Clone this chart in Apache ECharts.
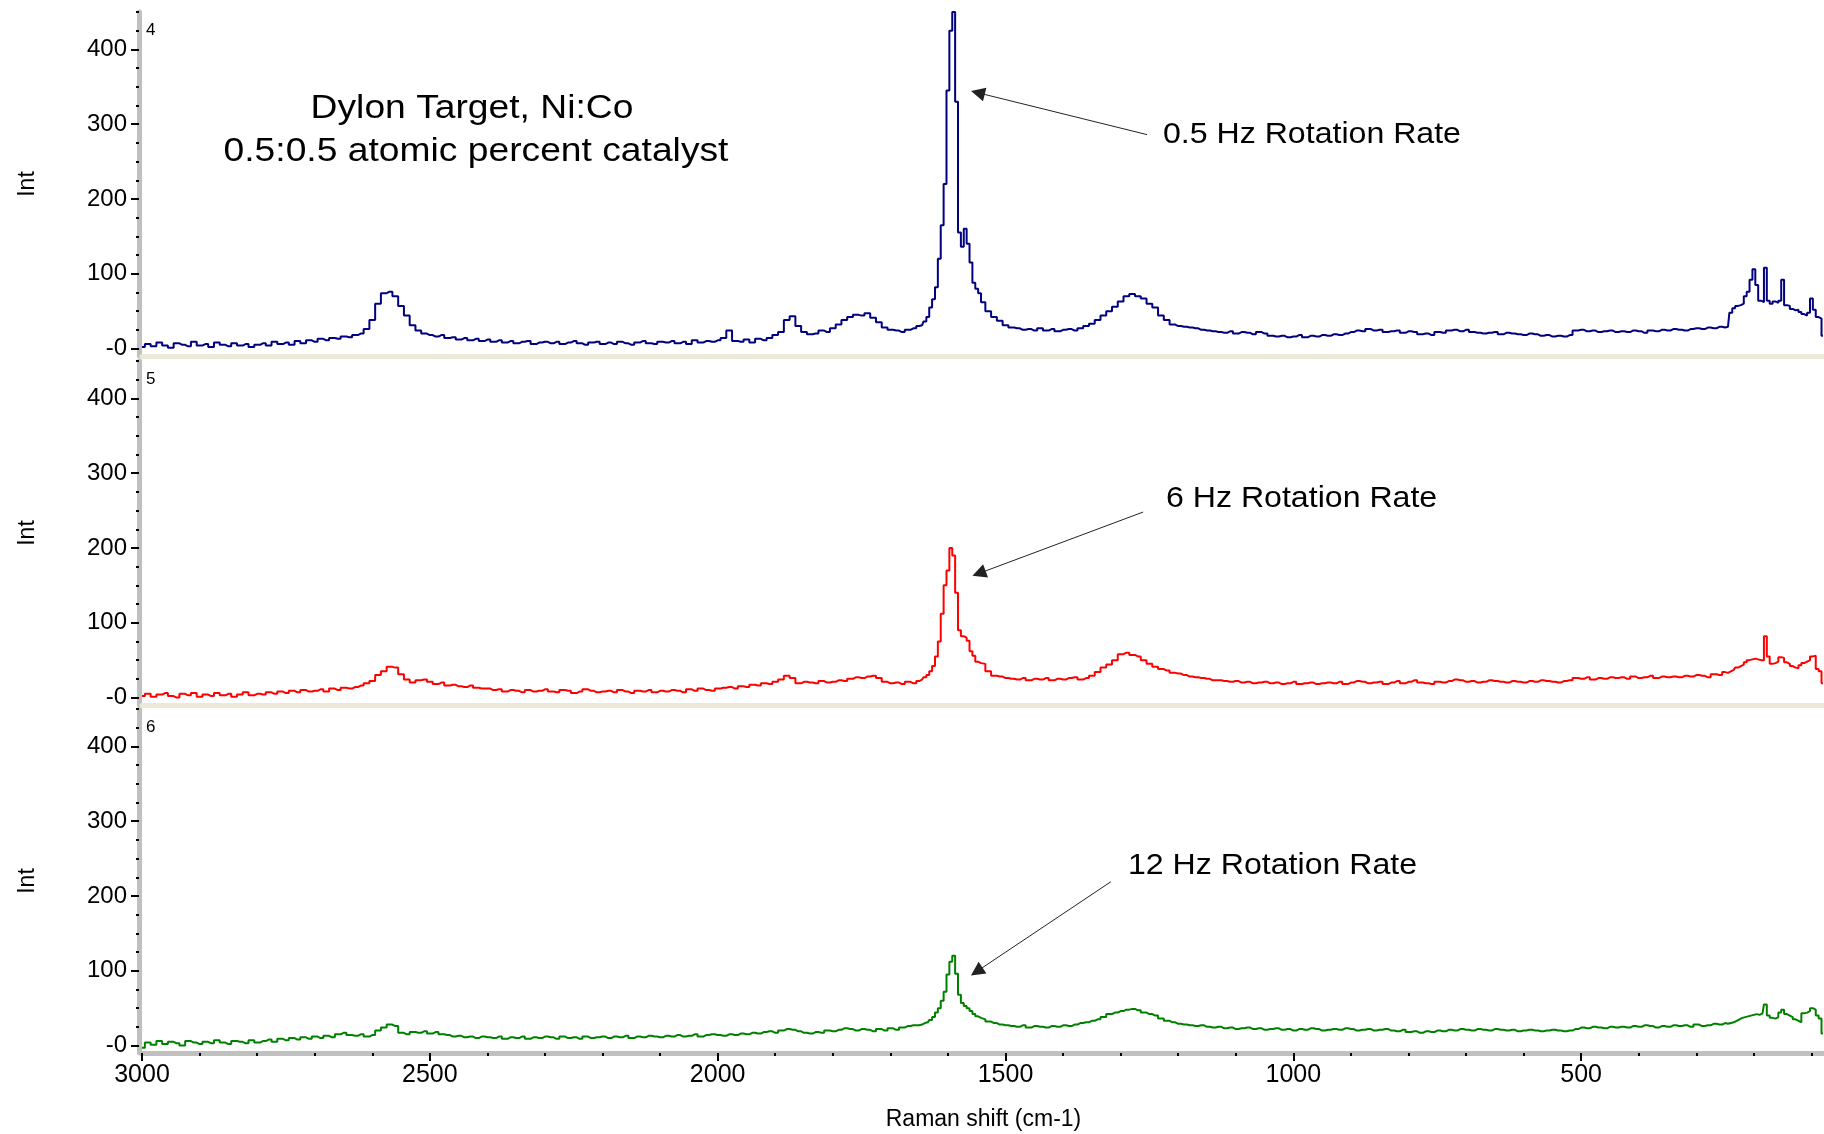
<!DOCTYPE html>
<html>
<head>
<meta charset="utf-8">
<title>Dylon Target Raman spectra</title>
<script src="https://cdn.jsdelivr.net/npm/echarts@6.0.0/dist/echarts.min.js"></script>
<style>
  html, body { margin: 0; padding: 0; background: #fff; }
  #chart { width: 1824px; height: 1134px; }
</style>
</head>
<body>
<div id="chart"></div>
<script>
// Raman shift (cm-1) shared by the three spectra
const shift = [
  3000, 2990, 2980, 2970, 2960, 2950, 2940, 2930, 2920, 2910, 2900,
  2890, 2880, 2870, 2860, 2850, 2840, 2830, 2820, 2810, 2800,
  2790, 2780, 2770, 2760, 2750, 2740, 2730, 2720, 2710, 2700,
  2690, 2680, 2670, 2660, 2650, 2640, 2630, 2620, 2610, 2600,
  2590, 2580, 2570, 2560, 2550, 2540, 2530, 2520, 2510, 2500,
  2490, 2480, 2470, 2460, 2450, 2440, 2430, 2420, 2410, 2400,
  2390, 2380, 2370, 2360, 2350, 2340, 2330, 2320, 2310, 2300,
  2290, 2280, 2270, 2260, 2250, 2240, 2230, 2220, 2210, 2200,
  2190, 2180, 2170, 2160, 2150, 2140, 2130, 2120, 2110, 2100,
  2090, 2080, 2070, 2060, 2050, 2040, 2030, 2020, 2010, 2000,
  1990, 1980, 1970, 1960, 1950, 1940, 1930, 1920, 1910, 1900,
  1890, 1880, 1870, 1860, 1850, 1840, 1830, 1820, 1810, 1800,
  1790, 1780, 1770, 1760, 1750, 1740, 1730, 1720, 1710, 1700,
  1690, 1680, 1670, 1660,
  1650, 1645, 1640, 1635, 1630, 1625, 1620, 1615, 1610, 1605, 1600, 1595,
  1590, 1585, 1580, 1575, 1570, 1565, 1560, 1555, 1550, 1545, 1540,
  1530, 1520, 1510, 1500, 1490, 1480, 1470, 1460, 1450, 1440,
  1430, 1420, 1410, 1400, 1390, 1380, 1370, 1360, 1350, 1340,
  1330, 1320, 1310, 1300, 1290, 1280, 1270, 1260, 1250, 1240,
  1230, 1220, 1210, 1200, 1190, 1180, 1170, 1160, 1150, 1140,
  1130, 1120, 1110, 1100, 1090, 1080, 1070, 1060, 1050, 1040,
  1030, 1020, 1010, 1000, 990, 980, 970, 960, 950, 940,
  930, 920, 910, 900, 890, 880, 870, 860, 850, 840,
  830, 820, 810, 800, 790, 780, 770, 760, 750, 740,
  730, 720, 710, 700, 690, 680, 670, 660, 650, 640,
  630, 620, 610, 600, 590, 580, 570, 560, 550, 540,
  530, 520, 510, 500, 490, 480, 470, 460, 450, 440,
  430, 420, 410, 400, 390, 380, 370, 360, 350, 340,
  330, 320, 310, 300, 290, 280, 270, 260, 250,
  245, 240, 235, 230, 225, 220, 215, 210, 205, 200,
  195, 190, 185, 180, 175, 170, 165, 160, 155, 150,
  145, 140, 135, 130, 125, 120, 115, 110, 105, 100,
  95, 90, 85, 80
]

// spectrum 4 : 0.5 Hz
const int4 = [
  2, 6, 3, 8, 4, 1, 7, 5, 3, 9, 4,
  6, 2, 8, 5, 3, 7, 4, 6, 2, 5,
  7, 4, 9, 6, 8, 5, 10, 7, 11, 9,
  13, 11, 14, 13, 16, 15, 18, 20, 26, 38,
  60, 74, 76, 70, 57, 44, 31, 24, 20, 18,
  16, 18, 14, 15, 12, 14, 11, 13, 10, 12,
  9, 11, 8, 10, 7, 9, 10, 6, 8, 9,
  7, 9, 6, 8, 10, 7, 5, 8, 9, 6,
  8, 6, 9, 7, 5, 8, 10, 7, 6, 9,
  8, 10, 7, 9, 6, 11, 8, 10, 9, 11,
  14, 24, 10, 9, 12, 8, 13, 11, 14, 18,
  22, 38, 43, 30, 22, 19, 20, 24, 22, 27,
  32, 38, 42, 45, 44, 47, 41, 35, 28, 25,
  24, 22, 25, 27,
  30, 31, 36, 42, 55, 66, 82, 120, 165, 220, 345, 425,
  450, 330, 155, 136, 160, 140, 115, 88, 80, 74, 62,
  50, 42, 37, 31, 28, 27, 25, 26, 24, 27,
  24, 26, 23, 25, 26, 24, 27, 30, 33, 38,
  44, 50, 56, 63, 70, 73, 70, 67, 60, 55,
  44, 38, 32, 30, 29, 28, 27, 25, 24, 23,
  22, 21, 23, 20, 22, 21, 19, 22, 20, 17,
  16, 17, 15, 16, 18, 15, 17, 16, 18, 17,
  19, 18, 20, 22, 24, 23, 26, 24, 25, 22,
  23, 24, 21, 23, 22, 19, 20, 18, 22, 21,
  24, 25, 23, 25, 22, 21, 20, 21, 22, 19,
  21, 20, 19, 18, 20, 19, 17, 18, 16, 17,
  16, 18, 24, 25, 23, 24, 22, 23, 24, 22,
  23, 22, 24, 23, 21, 24, 23, 25, 24, 26,
  25, 24, 26, 27, 26, 28, 27, 29, 28,
  29, 48, 54, 57, 58, 60, 70, 76, 92, 106,
  85, 64, 62, 108, 64, 60, 63, 61, 64, 92,
  58, 57, 53, 51, 52, 49, 46, 44, 48, 67,
  52, 42, 40, 17
]

// spectrum 5 : 6 Hz
const int5 = [
  2, 5, 1, 4, 6, 2, 0, 5, 3, 6, 1,
  4, 2, 6, 3, 5, 1, 4, 7, 3, 5,
  4, 7, 5, 8, 6, 9, 7, 10, 8, 9,
  11, 8, 12, 10, 13, 12, 14, 16, 19, 22,
  30, 35, 41, 40, 31, 24, 20, 23, 24, 21,
  18, 20, 16, 17, 15, 14, 16, 13, 12, 12,
  10, 11, 8, 10, 9, 7, 10, 8, 9, 11,
  8, 7, 10, 9, 6, 8, 11, 9, 7, 8,
  9, 7, 10, 8, 6, 9, 8, 10, 7, 9,
  8, 10, 9, 7, 11, 9, 12, 10, 9, 12,
  13, 14, 12, 15, 14, 17, 16, 19, 18, 21,
  24, 29, 26, 19, 21, 20, 19, 22, 20, 21,
  23, 22, 25, 27, 26, 28, 29, 26, 21, 19,
  20, 18, 21, 19,
  22, 24, 27, 30, 35, 42, 55, 75, 112, 150, 170, 200,
  190, 140, 90, 82, 80, 76, 62, 56, 48, 46, 45,
  35, 29, 28, 26, 25, 24, 26, 23, 25, 24,
  26, 23, 25, 24, 26, 27, 24, 26, 29, 34,
  40, 44, 50, 58, 60, 57, 55, 50, 45, 41,
  38, 36, 33, 32, 30, 28, 27, 26, 25, 23,
  23, 22, 21, 22, 20, 21, 19, 20, 21, 19,
  20, 18, 19, 21, 18, 19, 20, 18, 19, 20,
  19, 21, 18, 20, 22, 21, 19, 20, 21, 18,
  20, 22, 19, 21, 23, 20, 19, 18, 21, 20,
  22, 24, 23, 21, 22, 20, 21, 23, 22, 21,
  20, 22, 21, 20, 22, 21, 23, 22, 21, 20,
  22, 23, 26, 25, 27, 24, 26, 25, 27, 26,
  27, 25, 28, 26, 27, 29, 26, 28, 27, 28,
  27, 29, 28, 30, 29, 27, 31, 30, 34,
  33, 35, 37, 40, 42, 44, 47, 50, 51, 52,
  51, 50, 50, 82, 55, 45, 46, 48, 54, 53,
  47, 45, 42, 40, 39, 43, 46, 48, 50, 55,
  56, 38, 35, 19
]

// spectrum 6 : 12 Hz
const int6 = [
  -3, 4, 1, 6, 2, 5, 3, 0, 6, 4, 2,
  5, 3, 7, 4, 2, 6, 5, 3, 7, 4,
  6, 8, 5, 9, 7, 10, 8, 11, 9, 12,
  10, 13, 11, 15, 17, 14, 13, 15, 12, 14,
  20, 24, 28, 26, 17, 15, 18, 17, 19, 16,
  18, 15, 14, 12, 13, 11, 12, 10, 12, 11,
  10, 12, 9, 11, 10, 12, 9, 11, 10, 12,
  11, 9, 12, 10, 11, 9, 12, 10, 11, 12,
  10, 12, 11, 13, 10, 12, 11, 13, 12, 11,
  13, 12, 14, 12, 13, 15, 12, 14, 15, 14,
  13, 15, 14, 16, 15, 17, 16, 18, 19, 17,
  20, 22, 21, 19, 17, 16, 18, 17, 20, 19,
  21, 23, 22, 20, 22, 21, 19, 22, 20, 23,
  21, 24, 26, 27,
  27, 28, 30, 31, 34, 38, 44, 50, 60, 72, 95, 112,
  120, 96, 68, 57, 53, 50, 46, 42, 39, 37, 35,
  32, 30, 28, 27, 26, 25, 27, 24, 26, 25,
  24, 26, 25, 27, 26, 28, 30, 31, 33, 35,
  38, 42, 44, 46, 48, 49, 47, 44, 42, 40,
  36, 33, 31, 29, 28, 27, 26, 27, 25, 24,
  25, 23, 24, 22, 23, 24, 22, 23, 21, 22,
  23, 21, 22, 20, 22, 21, 23, 22, 20, 21,
  22, 21, 23, 22, 20, 21, 22, 20, 21, 22,
  20, 19, 21, 18, 19, 17, 19, 18, 20, 19,
  21, 20, 22, 21, 20, 22, 21, 20, 22, 21,
  20, 21, 19, 20, 21, 20, 19, 20, 21, 20,
  19, 20, 22, 24, 23, 25, 24, 23, 25, 24,
  25, 24, 26, 25, 27, 26, 24, 26, 25, 27,
  26, 27, 25, 28, 26, 27, 29, 28, 30,
  29, 30, 31, 33, 35, 37, 38, 39, 40, 41,
  42, 41, 43, 55, 40, 37, 36, 38, 44, 48,
  42, 40, 38, 35, 33, 31, 43, 44, 46, 50,
  48, 40, 36, 16
]

const panelNames = ['4', '5', '6']
const rateLabels = ['0.5 Hz Rotation Rate', '6 Hz Rotation Rate', '12 Hz Rotation Rate']
const titleLines = ['Dylon Target, Ni:Co', '0.5:0.5 atomic percent catalyst']
const yMajor = [0, 100, 200, 300, 400]
const yMinor = [25, 50, 75, 125, 150, 175, 225, 250, 275, 325, 350, 375, 425, 450]
// arrows in data coordinates: [tail, head]
const arrows = [
  [[1254, 286], [1548, 342]],
  [[1261, 248], [1546, 166]],
  [[1317, 219], [1550, 99]]
]

const FONT = '"Liberation Sans", Arial, sans-serif'
const colors = ['#000080', '#ff0000', '#008000']
const spectra = [int4, int5, int6]
const tops = [12, 361, 709]
const H = 344
const ratePos = [[1163, 135], [1166, 499], [1128, 866]]

const chart = echarts.init(document.getElementById('chart'))

// the x axis runs past the right edge (0 cm-1 falls just outside the window)
const grid = tops.map(t => ({
  left: 142, right: -45, top: t, height: H,
  outerBoundsMode: 'none', containLabel: false
}))

const xAxis = tops.map((t, i) => {
  const last = i === 2
  return {
    type: 'value',
    gridIndex: i,
    min: 0,
    max: 3000,
    interval: 500,
    inverse: true,
    axisLine: { onZero: false, lineStyle: { color: last ? '#c0c0c0' : '#ece9d8', width: 5 } },
    axisTick: { show: last, length: 8, lineStyle: { color: '#000', width: 2 } },
    minorTick: { show: last, splitNumber: 5, length: 3, lineStyle: { color: '#000', width: 2 } },
    axisLabel: {
      show: last, fontSize: 25, color: '#000', margin: 10, fontFamily: FONT,
      formatter: v => String(v)
    },
    splitLine: { show: false },
    minorSplitLine: { show: false },
    name: last ? 'Raman shift (cm-1)' : '',
    nameLocation: 'middle',
    nameGap: 55,
    nameTextStyle: { fontSize: 23, color: '#000', fontFamily: FONT, padding: [0, 44, 0, 0] }
  }
})

const yAxis = []
tops.forEach((t, i) => {
  yAxis.push({
    type: 'value',
    gridIndex: i,
    min: -10,
    max: 450,
    position: 'left',
    offset: 3,
    axisLine: { show: true, onZero: false, lineStyle: { color: '#c0c0c0', width: 5 } },
    axisTick: { show: true, customValues: yMajor, length: 8, lineStyle: { color: '#000', width: 2 } },
    axisLabel: {
      customValues: yMajor,
      formatter: v => (v === 0 ? '-0' : String(v)),
      fontSize: 24,
      color: '#000',
      margin: 12,
      fontFamily: FONT
    },
    splitLine: { show: false },
    name: 'Int',
    nameLocation: 'middle',
    nameGap: 100,
    nameTextStyle: { fontSize: 23, color: '#000', fontFamily: FONT }
  })
  // minor ticks
  yAxis.push({
    type: 'value',
    gridIndex: i,
    min: -10,
    max: 450,
    position: 'left',
    offset: 3,
    axisLine: { show: false, onZero: false },
    axisTick: { show: true, customValues: yMinor, length: 3, lineStyle: { color: '#000', width: 2 } },
    axisLabel: { show: false },
    splitLine: { show: false }
  })
})

const series = spectra.map((vals, i) => ({
  name: panelNames[i],
  type: 'line',
  xAxisIndex: i,
  yAxisIndex: 2 * i,
  data: shift.map((s, k) => [s, vals[k]]),
  step: 'middle',
  showSymbol: false,
  symbol: 'none',
  silent: true,
  lineStyle: { color: colors[i], width: 2 },
  itemStyle: { color: colors[i] },
  z: 3,
  markLine: {
    silent: true,
    animation: false,
    symbol: ['none', 'triangle'],
    symbolSize: 14,
    label: { show: false },
    lineStyle: { color: '#222', width: 1, type: 'solid' },
    itemStyle: { color: '#000' },
    emphasis: { disabled: true },
    data: [[{ coord: arrows[i][0] }, { coord: arrows[i][1] }]]
  }
}))

chart.setOption({
  animation: false,
  textStyle: { fontFamily: FONT },
  grid,
  xAxis,
  yAxis,
  series
})

// text overlays
const txt = (x, y, text, size, align, sx) => ({
  type: 'text',
  x, y,
  scaleX: sx,
  silent: true,
  style: {
    text,
    font: size + 'px ' + FONT,
    fill: '#000',
    align, textAlign: align,
    verticalAlign: 'middle', textVerticalAlign: 'middle'
  }
})

const graphic = [
  txt(472, 109, titleLines[0], 34, 'center', 1.095),
  txt(476, 152, titleLines[1], 34, 'center', 1.095)
]
rateLabels.forEach((s, i) => {
  graphic.push(txt(ratePos[i][0], ratePos[i][1], s, 30, 'left', 1.07))
})
panelNames.forEach((s, i) => {
  const p = chart.convertToPixel({ gridIndex: i }, [3000, 425])
  graphic.push(txt(p[0] + 4, p[1], s, 17, 'left', 1))
})

chart.setOption({ graphic })
</script>
</body>
</html>
